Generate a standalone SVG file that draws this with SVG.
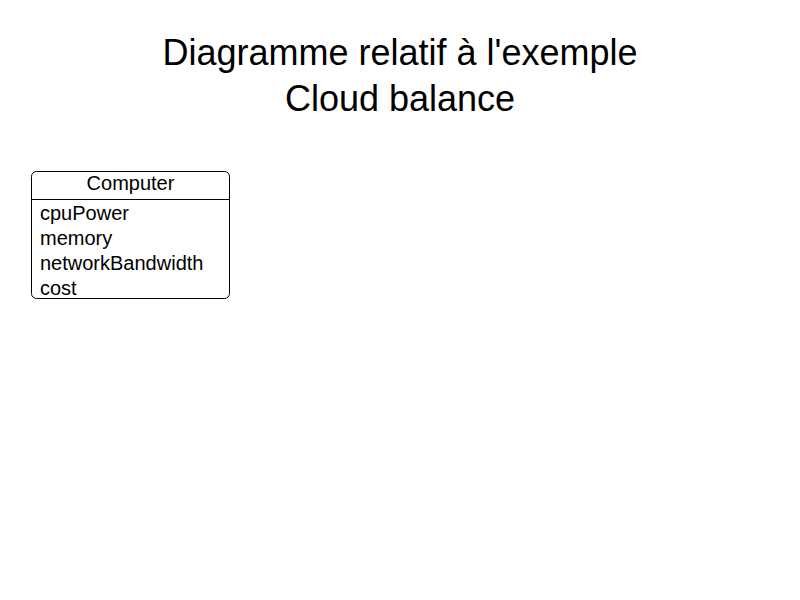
<svg xmlns="http://www.w3.org/2000/svg" width="800" height="600" viewBox="0 0 800 600">
<style>
text{font-family:"Liberation Sans",Arial,sans-serif;fill:#000}
.title{font-size:36px;text-anchor:middle}
.cls{font-size:20px}
.box{fill:#fff;stroke:#000;stroke-width:1}
</style>
<rect width="800" height="600" fill="#fff"/>
<g id="title">
<text class="title" x="400" y="65">Diagramme relatif à l'exemple</text>
<text class="title" x="400" y="111">Cloud balance</text>
</g>
<g id="computer">
<rect class="box" x="31.5" y="171.5" width="198" height="127" rx="5"/>
<line x1="31.5" y1="199.5" x2="229.5" y2="199.5" stroke="#000" stroke-width="1"/>
<text class="cls" x="130.5" y="189.5" text-anchor="middle">Computer</text>
<text class="cls" x="40" y="220">cpuPower</text>
<text class="cls" x="40" y="245">memory</text>
<text class="cls" x="40" y="270">networkBandwidth</text>
<text class="cls" x="40" y="295">cost</text>
</g>
<g id="connectors"></g>
</svg>
